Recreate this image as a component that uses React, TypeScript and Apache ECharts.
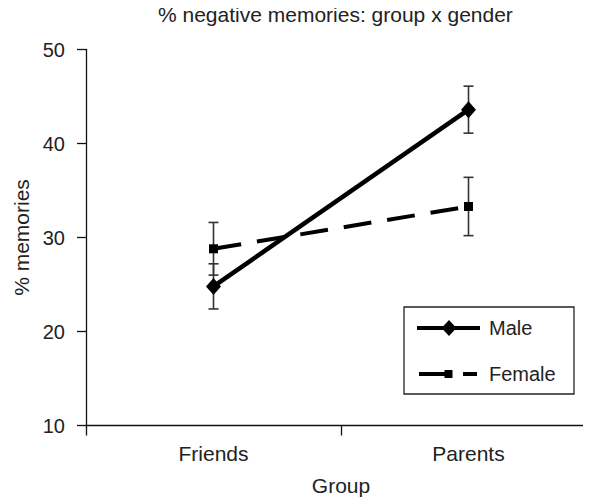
import React, { useEffect, useRef } from "react";
import * as echarts from "echarts";

// Group categories on the x axis
const groups = ["Friends", "Parents"];

// Mean % negative memories per group, and the half-width of each error bar
const maleMeans = [24.8, 43.6];
const maleErrors = [2.4, 2.5];
const femaleMeans = [28.8, 33.3];
const femaleErrors = [2.8, 3.1];

// Series names shown in the key
const seriesNames = ["Male", "Female"];

// Y axis range and step
const yMin = 10;
const yMax = 50;
const yStep = 10;

const FONT = "'Liberation Sans', Arial, Helvetica, sans-serif";
const TEXT = "#222";
const INK = "#000";

function errorRows(means: number[], errs: number[]) {
  return means.map((m, i) => [i, m - errs[i], m + errs[i]]);
}

function errorBarSeries(name: string, means: number[], errs: number[]) {
  return {
    type: "custom",
    name,
    z: 1,
    silent: true,
    data: errorRows(means, errs),
    encode: { x: 0, y: [1, 2] },
    renderItem: (params: any, api: any) => {
      const idx = api.value(0);
      const low = api.coord([idx, api.value(1)]);
      const high = api.coord([idx, api.value(2)]);
      const cap = 5;
      const style = { stroke: "#333", lineWidth: 1.6 };
      return {
        type: "group",
        children: [
          { type: "line", shape: { x1: high[0], y1: high[1], x2: low[0], y2: low[1] }, style },
          { type: "line", shape: { x1: high[0] - cap, y1: high[1], x2: high[0] + cap, y2: high[1] }, style },
          { type: "line", shape: { x1: low[0] - cap, y1: low[1], x2: low[0] + cap, y2: low[1] }, style },
        ],
      };
    },
  };
}

// Boxed key in the lower right: a solid line with a diamond, a dashed line with a square
function keyGraphic() {
  const bx = 404;
  const by = 307;
  const rowMale = 328;
  const rowFemale = 374;
  const lineStyle = { stroke: INK, lineWidth: 4 };
  const textStyle = { fontFamily: FONT, fontSize: 20, fill: TEXT, verticalAlign: "middle", align: "left" };
  return [
    {
      type: "group",
      z: 10,
      children: [
        { type: "rect", shape: { x: bx, y: by, width: 170, height: 87 }, style: { fill: "#fff", stroke: "#222", lineWidth: 1.3 } },
        { type: "line", shape: { x1: 417, y1: rowMale, x2: 480, y2: rowMale }, style: lineStyle },
        {
          type: "polygon",
          shape: { points: [[449, rowMale - 8], [456.5, rowMale], [449, rowMale + 8], [441.5, rowMale]] },
          style: { fill: INK },
        },
        { type: "text", style: { ...textStyle, text: seriesNames[0], x: 489, y: rowMale } },
        { type: "line", shape: { x1: 419, y1: rowFemale, x2: 448, y2: rowFemale }, style: lineStyle },
        { type: "rect", shape: { x: 444.5, y: rowFemale - 4, width: 8, height: 8 }, style: { fill: INK } },
        { type: "line", shape: { x1: 463, y1: rowFemale, x2: 477, y2: rowFemale }, style: lineStyle },
        { type: "text", style: { ...textStyle, text: seriesNames[1], x: 489, y: rowFemale } },
      ],
    },
  ];
}

export default function App() {
  const ref = useRef<HTMLDivElement>(null);

  useEffect(() => {
    if (!ref.current) return;
    const chart = echarts.init(ref.current, null, { renderer: "svg" });
    chart.setOption({
      animation: false,
      backgroundColor: "#fff",
      textStyle: { fontFamily: FONT, color: TEXT },
      title: {
        text: "% negative memories: group x gender",
        left: 158,
        top: 4,
        padding: 0,
        textStyle: { fontFamily: FONT, fontSize: 21, fontWeight: "normal", color: TEXT },
      },
      grid: {
        left: 86,
        right: -5,
        top: 49.5,
        bottom: 72.5,
        containLabel: false,
        outerBoundsMode: "none",
      },
      xAxis: {
        type: "category",
        data: groups,
        boundaryGap: true,
        name: "Group",
        nameLocation: "middle",
        nameGap: 49,
        nameTextStyle: { fontFamily: FONT, fontSize: 21, color: TEXT },
        axisLine: { lineStyle: { color: "#111", width: 1.3 } },
        axisTick: { show: true, length: 10, alignWithLabel: false, lineStyle: { color: "#111", width: 1.3 } },
        axisLabel: { fontFamily: FONT, fontSize: 21, color: TEXT, margin: 17 },
        splitLine: { show: false },
      },
      yAxis: {
        type: "value",
        min: yMin,
        max: yMax,
        interval: yStep,
        name: "% memories",
        nameLocation: "middle",
        nameGap: 54,
        nameTextStyle: { fontFamily: FONT, fontSize: 21, color: TEXT },
        axisLine: { show: true, lineStyle: { color: "#111", width: 1.3 } },
        axisTick: { show: true, length: 9, lineStyle: { color: "#111", width: 1.3 } },
        axisLabel: { fontFamily: FONT, fontSize: 20, color: TEXT, margin: 21 },
        splitLine: { show: false },
      },
      graphic: keyGraphic(),
      series: [
        errorBarSeries("Male error", maleMeans, maleErrors),
        errorBarSeries("Female error", femaleMeans, femaleErrors),
        {
          type: "line",
          name: seriesNames[0],
          z: 3,
          data: maleMeans,
          symbol: "diamond",
          symbolSize: [15, 17],
          lineStyle: { color: INK, width: 4.5, type: "solid" },
          itemStyle: { color: INK },
        },
        {
          type: "line",
          name: seriesNames[1],
          z: 2,
          data: femaleMeans,
          symbol: "rect",
          symbolSize: 9,
          lineStyle: { color: INK, width: 4, type: [28, 16] },
          itemStyle: { color: INK },
        },
      ],
    });
    return () => chart.dispose();
  }, []);

  return <div ref={ref} style={{ width: 591, height: 498, marginLeft: -8, marginTop: -8 }} />;
}
